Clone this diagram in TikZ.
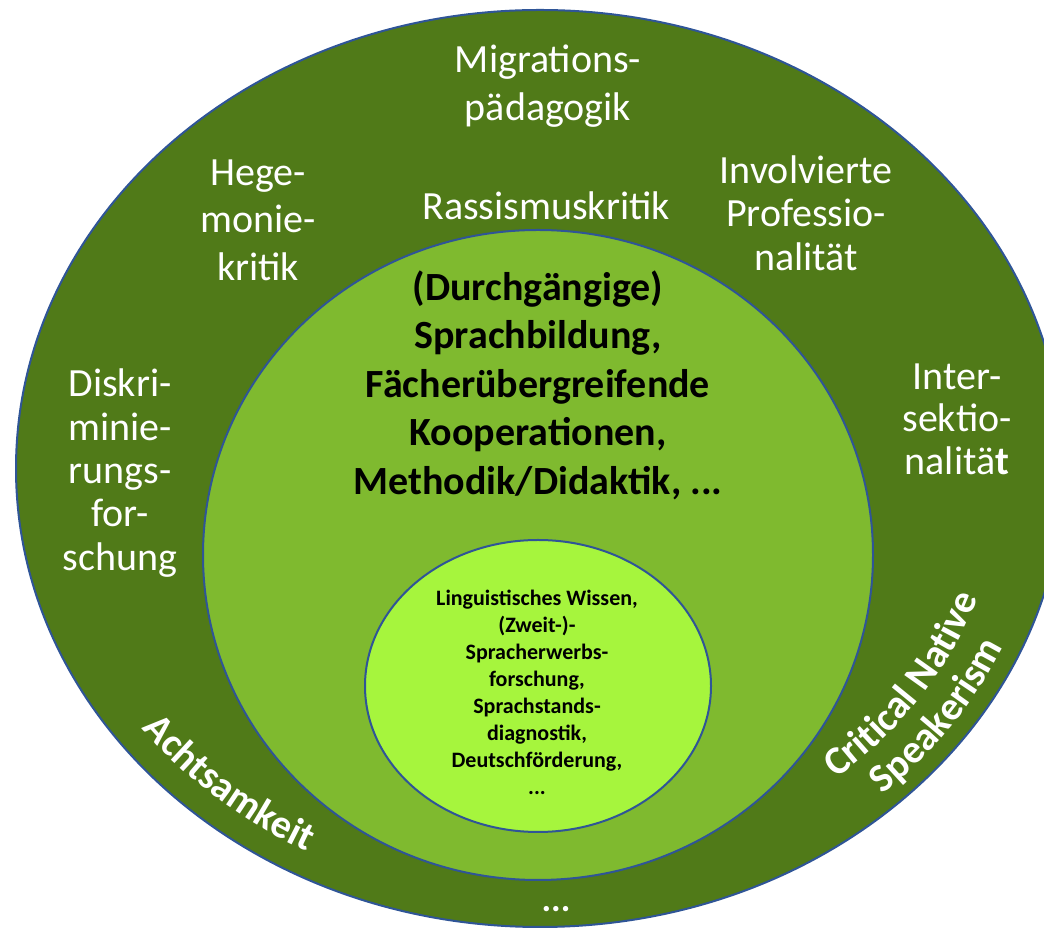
\documentclass[tikz,border=0pt]{standalone}
\usepackage{fontspec}
\setmainfont{Carlito}
\usetikzlibrary{decorations.text}
\definecolor{ringdark}{RGB}{80,122,24}
\definecolor{ringmid}{RGB}{127,186,47}
\definecolor{ringcore}{RGB}{166,245,61}
\definecolor{ringline}{RGB}{47,85,151}
\tikzset{
  ring/.style={draw=ringline, line width=2pt},
  outertext/.style={text=white, align=center, font=\fontsize{40}{#1}\selectfont},
  outertext/.default=47,
}
\begin{document}
\begin{tikzpicture}[x=1pt, y=1pt]
\useasboundingbox (0,0) rectangle (1044,931);
\clip (0,0) rectangle (1044,931);
% the three rings
\draw[ring, fill=ringdark] (540,462.5) ellipse [x radius=524, y radius=458.5];
\draw[ring, fill=ringmid] (538,376) ellipse [x radius=335, y radius=325];
\draw[ring, fill=ringcore] (538,245) ellipse [x radius=173, y radius=146];
% outer ring
\node[outertext=48] (migr) at (548,845) {Migrations-\\pädagogik};
\node[outertext] (rass) at (546,725) {Rassismuskritik};
\node[outertext=47.5] (hege) at (258,711) {Hege-\\monie-\\kritik};
\node[outertext=43.5] (invol) at (806,718) {Involvierte\\Professio-\\nalität};
\node[outertext=43.3] (diskri) at (120,458) {Diskri-\\minie-\\rungs-\\for-\\schung};
\node[outertext=42.5] (inter) at (957,512) {Inter-\\sektio-\\nalitä\textbf{t}};
\node[text=white, font=\bfseries\fontsize{36}{36}\selectfont] (etc) at (556,22) {...};
% curved labels
\path[decorate, decoration={text along path, text align=center, text color=white,
  text={|\bfseries\fontsize{40}{40}\selectfont|Achtsamkeit}}]
  (540,462.5) ++(196.5:497 and 434) arc[start angle=196.5, end angle=260.5, x radius=497, y radius=434];
\path[decorate, decoration={text along path, text align=center, text color=white,
  text={|\bfseries\fontsize{40}{40}\selectfont|Critical Native}}]
  (540,462.5) ++(-76:462 and 404) arc[start angle=-76, end angle=10, x radius=462, y radius=404];
\path[decorate, decoration={text along path, text align=center, text color=white,
  text={|\bfseries\fontsize{40}{40}\selectfont|Speakerism}}]
  (540,462.5) ++(-77:506 and 443) arc[start angle=-77, end angle=9, x radius=506, y radius=443];
% middle ring
\node[align=center, font=\bfseries\fontsize{40}{48.5}\selectfont] (sprach) at (538,546)
  {(Durchgängige)\\Sprachbildung,\\Fächerübergreifende\\Kooperationen,\\Methodik/Didaktik, ...};
% core
\node[align=center, font=\bfseries\fontsize{22}{27}\selectfont] (ling) at (537,239)
  {Linguistisches Wissen,\\(Zweit-)-\\Spracherwerbs-\\forschung,\\Sprachstands-\\diagnostik,\\Deutschförderung,\\...};
\end{tikzpicture}
\end{document}
